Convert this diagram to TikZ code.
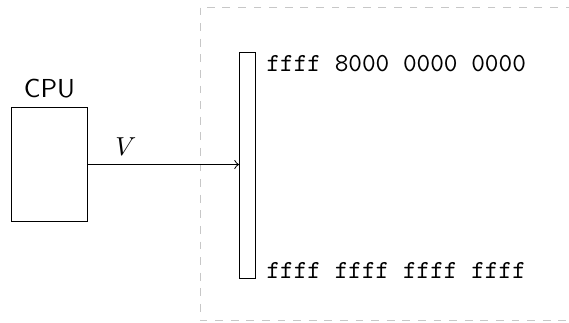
\documentclass[tikz,border=0pt]{standalone}
\usetikzlibrary{positioning}

\begin{document}
\begin{tikzpicture}
% one unit of the grid below is one screen pixel
\def\px{0.3846pt}
\tikzset{
  unitbox/.style={draw, rectangle, inner sep=0pt},
  memrow/.style={font=\ttfamily, inner sep=0pt, anchor=base west},
  region/.style={draw=black!22, dashed, line width=0.5pt}
}
\begin{scope}[x=\px, y=-\px]
  % Frame of the picture
  \clip (0,0) rectangle (569,322);
  % Address space of the device (runs off to the right)
  \draw[region] (200.5,7.5) rectangle (620,320.5);
  % Processor
  \node[unitbox, minimum width=76*\px, minimum height=114*\px,
        label={[font=\sffamily]above:CPU}] (cpu) at (49.5,164.5) {};
  % Memory column
  \node[unitbox, minimum width=16*\px, minimum height=226*\px] (mem) at (247.5,165.5) {};
  \node[memrow] (top) at ([xshift=10*\px, yshift=-20*\px]mem.north east) {ffff 8000 0000 0000};
  \node[memrow] (bottom) at ([xshift=10*\px, yshift=1*\px]mem.south east) {ffff ffff ffff ffff};
  % Virtual address going out
  \draw[->] (cpu.east) -- node[above, pos=0.25] (va) {$V$} (cpu.east -| mem.west);
\end{scope}
\end{tikzpicture}
\end{document}
